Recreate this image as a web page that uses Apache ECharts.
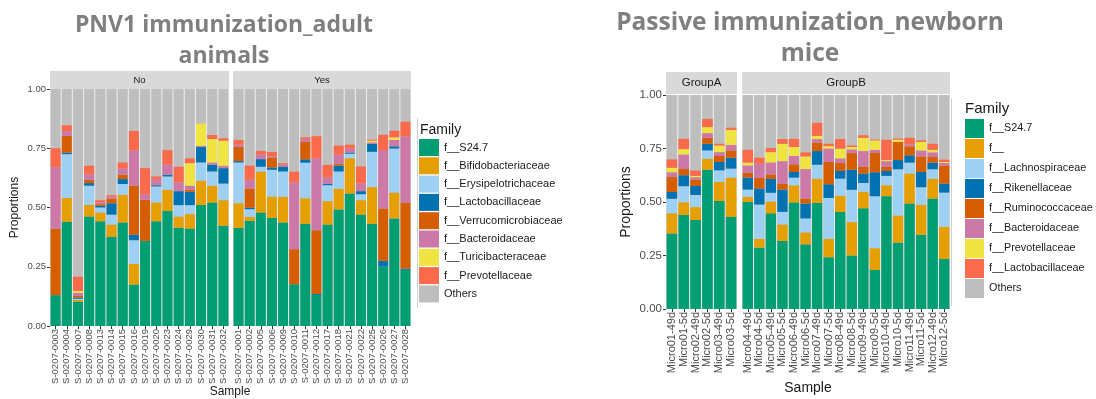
<!DOCTYPE html>
<html>
<head>
<meta charset="utf-8">
<script src="https://cdn.jsdelivr.net/npm/echarts@6/dist/echarts.min.js"></script>
<style>
  body { margin: 0; background: #fff; }
  #left { position: absolute; left: 0; top: 0; width: 590px; height: 399px; }
  #right { position: absolute; left: 590px; top: 0; width: 506px; height: 399px; }
</style>
</head>
<body>
<div id="left"></div>
<div id="right"></div>
<script>
// ---- left chart: PNV1 immunization_adult animals ----
const adultFamilies = ['f__S24.7', 'f__Bifidobacteriaceae', 'f__Erysipelotrichaceae', 'f__Lactobacillaceae',
  'f__Verrucomicrobiaceae', 'f__Bacteroidaceae', 'f__Turicibacteraceae', 'f__Prevotellaceae']
const noSamples = ['S-0207-0003', 'S-0207-0004', 'S-0207-0007', 'S-0207-0008', 'S-0207-0013', 'S-0207-0014',
  'S-0207-0015', 'S-0207-0016', 'S-0207-0019', 'S-0207-0020', 'S-0207-0023', 'S-0207-0024',
  'S-0207-0029', 'S-0207-0030', 'S-0207-0031', 'S-0207-0032']
const yesSamples = ['S-0207-0001', 'S-0207-0002', 'S-0207-0005', 'S-0207-0006', 'S-0207-0009', 'S-0207-0010',
  'S-0207-0011', 'S-0207-0012', 'S-0207-0017', 'S-0207-0018', 'S-0207-0021', 'S-0207-0022',
  'S-0207-0025', 'S-0207-0026', 'S-0207-0027', 'S-0207-0028']
// one row per family, bottom to top
const noValues = [
  [.13, .44, .103, .462, .442, .377, .437, .175, .359, .442, .485, .415, .411, .511, .521, .423],
  [0, .10, .007, .049, .037, .051, .116, .087, 0, .079, .09, .047, .061, .102, .071, .108],
  [0, .185, .005, .081, .021, .042, .046, .10, 0, .068, .056, .048, .038, .077, .06, .07],
  [0, .007, .005, .011, .007, .048, .021, .023, 0, .005, .006, .059, .056, .065, .028, .065],
  [.28, .07, .007, .014, .007, .02, .018, .207, .173, 0, 0, 0, .009, 0, 0, 0],
  [.26, .02, .013, .023, .007, .008, .027, .149, .024, .026, .045, .037, .017, .005, .01, .01],
  [0, 0, .008, 0, 0, 0, 0, 0, 0, 0, 0, 0, .095, .094, .099, .106],
  [.08, .025, .06, .036, .01, .006, .025, .082, .11, .011, .06, .066, .02, 0, .017, .01]
]
const yesValues = [
  [.414, .444, .479, .456, .437, .176, .431, .131, .428, .492, .559, .47, .431, .251, .454, .237],
  [.104, .017, .173, .09, .108, 0, .108, 0, .099, .087, .149, .061, .155, 0, .109, 0],
  [.172, .032, .02, .113, .107, 0, .15, 0, .067, .073, .019, .025, .149, 0, .186, 0],
  [.006, .006, .032, .01, .021, 0, .014, .004, .006, .024, .005, .013, .033, .024, .009, .005],
  [.06, .081, 0, .041, 0, .148, .074, .269, 0, .007, 0, 0, 0, .221, 0, .279],
  [.009, .037, .02, .005, .008, .282, .012, .304, .027, .04, .017, .032, .007, .246, .027, .279],
  [0, 0, 0, 0, 0, 0, 0, 0, 0, 0, 0, 0, .007, 0, .011, 0],
  [.02, .059, .015, .019, .006, .045, .007, .093, .053, .038, .016, .072, .004, .065, .028, .062]
]

// ---- right chart: Passive immunization_newborn mice ----
const newbornFamilies = ['f__S24.7', 'f__', 'f__Lachnospiraceae', 'f__Rikenellaceae',
  'f__Ruminococcaceae', 'f__Bacteroidaceae', 'f__Prevotellaceae', 'f__Lactobacillaceae']
const groupASamples = ['Micro01-49d', 'Micro01-5d', 'Micro02-49d', 'Micro02-5d', 'Micro03-49d', 'Micro03-5d']
const groupBSamples = ['Micro04-49d', 'Micro04-5d', 'Micro05-49d', 'Micro05-5d', 'Micro06-49d', 'Micro06-5d',
  'Micro07-49d', 'Micro07-5d', 'Micro08-49d', 'Micro08-5d', 'Micro09-49d', 'Micro09-5d',
  'Micro10-49d', 'Micro10-5d', 'Micro11-49d', 'Micro11-5d', 'Micro12-49d', 'Micro12-5d']
const groupAValues = [
  [.353, .439, .416, .651, .505, .431],
  [.094, .06, .06, .051, .089, .183],
  [.068, .075, .057, .039, .054, .042],
  [.032, .051, .042, .031, .039, .051],
  [.07, .029, .03, .028, .028, .034],
  [.022, .068, .011, .022, .018, .026],
  [.021, .025, .006, .028, .031, .07],
  [.039, .048, .025, .038, .008, .01]
]
const groupBValues = [
  [.501, .287, .447, .318, .498, .302, .496, .242, .453, .25, .471, .183, .527, .31, .493, .347, .516, .234],
  [.023, .04, .055, .077, .08, .056, .113, .085, .076, .156, .076, .101, .051, .127, .14, .14, .092, .15],
  [.034, .161, .041, .059, .036, .065, .065, .192, .08, .151, .042, .243, .044, .216, .051, .082, .045, .16],
  [.056, .075, .065, .104, .026, .07, .064, .064, .036, .094, .044, .112, .023, .043, .034, .071, .031, .042],
  [.022, .049, .021, .028, .036, .023, .04, .104, .037, .079, .031, .09, .019, .085, .042, .073, .026, .082],
  [.035, .067, .056, .105, .039, .138, .016, .063, .022, .016, .074, .015, .027, 0, .009, .028, .022, .014],
  [.013, 0, .048, .081, .042, .059, .015, .011, .045, .011, .062, .044, .005, .01, 0, .04, .012, .005],
  [.06, .028, .019, .022, .038, .019, .061, .011, .045, .007, .012, .004, .095, .006, .031, .007, .028, .011]
]

const palette = ['#009E73', '#E69F00', '#9dd0f2', '#0072B2', '#D55E00', '#CC79A7', '#F0E442', '#fb6a4a']
const othersColor = '#bebebe'
const FONT = 'Liberation Sans, Arial, sans-serif'

function panelSeries(families, values, idx) {
  return families.map((name, i) => ({
    name,
    type: 'bar',
    stack: 'p' + idx,
    xAxisIndex: idx,
    yAxisIndex: idx,
    barCategoryGap: '10%',
    data: values[i],
    itemStyle: { color: palette[i] },
    showBackground: i === 0,
    backgroundStyle: { color: othersColor },
    silent: true
  }))
}

// legend-only entry for the gray remainder (drawn as bar background)
function othersEntry() {
  return { name: 'Others', type: 'bar', stack: 'p0', xAxisIndex: 0, yAxisIndex: 0,
    barCategoryGap: '10%', data: [], itemStyle: { color: othersColor } }
}

function xAxis(idx, cats, fontSize) {
  return {
    type: 'category',
    gridIndex: idx,
    data: cats,
    axisLine: { show: false },
    axisTick: { show: true, alignWithLabel: true, length: 3, lineStyle: { color: '#333' } },
    axisLabel: { rotate: 90, interval: 0, fontSize, color: '#4d4d4d', margin: 3, fontFamily: FONT }
  }
}

function yAxis(idx, showLabels, fontSize, nameSize, nameGap) {
  return {
    type: 'value',
    gridIndex: idx,
    min: 0,
    max: 1,
    interval: 0.25,
    name: showLabels ? 'Proportions' : '',
    nameLocation: 'middle',
    nameRotate: 90,
    nameGap,
    nameTextStyle: { fontSize: nameSize, color: '#1a1a1a', fontFamily: FONT },
    axisLine: { show: false },
    axisTick: { show: showLabels, length: 3, lineStyle: { color: '#333' } },
    axisLabel: { show: showLabels, fontSize, color: '#4d4d4d', margin: 4, fontFamily: FONT,
      formatter: v => v.toFixed(2) },
    splitLine: { show: false }
  }
}

function strip(x, y, w, h, label, fontSize) {
  return [
    { type: 'rect', shape: { x, y, width: w, height: h }, style: { fill: '#d9d9d9' } },
    { type: 'text', x: x + w / 2, y: y + h / 2,
      style: { text: label, fontSize, fill: '#1a1a1a', fontFamily: FONT, align: 'center', verticalAlign: 'middle' } }
  ]
}

function titleText(x, y, text, size) {
  return { type: 'text', x, y, style: { text, fontSize: size, fontWeight: 'bold', fill: '#7f7f7f',
    fontFamily: 'Open Sans, sans-serif', align: 'center', verticalAlign: 'middle' } }
}

// left
const leftChart = echarts.init(document.getElementById('left'))
leftChart.setOption({
  animation: false,
  grid: [
    { left: 50, top: 89, width: 179, height: 237, show: true, backgroundColor: '#ebebeb', borderWidth: 0 },
    { left: 233, top: 89, width: 178, height: 237, show: true, backgroundColor: '#ebebeb', borderWidth: 0 }
  ],
  xAxis: [xAxis(0, noSamples, 9.5), xAxis(1, yesSamples, 9.5)],
  yAxis: [yAxis(0, true, 9.5, 12, 29), yAxis(1, false, 9.5, 12, 29)],
  legend: {
    orient: 'vertical', left: 419, top: 139, padding: 0,
    itemWidth: 20, itemHeight: 17, itemGap: 1.3,
    icon: 'rect',
    textStyle: { fontSize: 11, color: '#1a1a1a', fontFamily: FONT },
    data: adultFamilies.concat(['Others'])
  },
  series: panelSeries(adultFamilies, noValues, 0)
    .concat(panelSeries(adultFamilies, yesValues, 1))
    .concat([othersEntry()]),
  graphic: [
    titleText(224, 25, 'PNV1 immunization_adult', 23),
    titleText(224, 56, 'animals', 23),
    ...strip(50, 71, 179, 18, 'No', 9.5),
    ...strip(233, 71, 178, 18, 'Yes', 9.5),
    { type: 'text', x: 230, y: 392, style: { text: 'Sample', fontSize: 12, fill: '#1a1a1a', fontFamily: FONT,
      align: 'center', verticalAlign: 'middle' } },
    { type: 'text', x: 420, y: 130, style: { text: 'Family', fontSize: 14, fill: '#1a1a1a', fontFamily: FONT,
      align: 'left', verticalAlign: 'middle' } },
    { type: 'line', shape: { x1: 417.5, y1: 118, x2: 417.5, y2: 308 }, style: { stroke: '#d0d0d0', lineWidth: 1 } }
  ]
})

// right
const rightChart = echarts.init(document.getElementById('right'))
rightChart.setOption({
  animation: false,
  grid: [
    { left: 76, top: 95, width: 71, height: 214, show: true, backgroundColor: '#ebebeb', borderWidth: 0 },
    { left: 152, top: 95, width: 208, height: 214, show: true, backgroundColor: '#ebebeb', borderWidth: 0 }
  ],
  xAxis: [xAxis(0, groupASamples, 11), xAxis(1, groupBSamples, 11)],
  yAxis: [yAxis(0, true, 11.5, 14, 33), yAxis(1, false, 11.5, 14, 33)],
  legend: {
    orient: 'vertical', left: 375, top: 119, padding: 0,
    itemWidth: 19, itemHeight: 19, itemGap: 1,
    icon: 'rect',
    textStyle: { fontSize: 10.8, color: '#1a1a1a', fontFamily: FONT },
    data: newbornFamilies.concat(['Others'])
  },
  series: panelSeries(newbornFamilies, groupAValues, 0)
    .concat(panelSeries(newbornFamilies, groupBValues, 1))
    .concat([othersEntry()]),
  graphic: [
    titleText(220, 23, 'Passive immunization_newborn', 24.5),
    titleText(220, 54, 'mice', 24.5),
    ...strip(76, 72, 71, 22, 'GroupA', 11.5),
    ...strip(152, 72, 208, 22, 'GroupB', 11.5),
    { type: 'text', x: 218, y: 388, style: { text: 'Sample', fontSize: 14, fill: '#1a1a1a', fontFamily: FONT,
      align: 'center', verticalAlign: 'middle' } },
    { type: 'text', x: 375, y: 109, style: { text: 'Family', fontSize: 15, fill: '#1a1a1a', fontFamily: FONT,
      align: 'left', verticalAlign: 'middle' } },
    { type: 'line', shape: { x1: 361.5, y1: 98, x2: 361.5, y2: 306 }, style: { stroke: '#d0d0d0', lineWidth: 1 } }
  ]
})
</script>
</body>
</html>
